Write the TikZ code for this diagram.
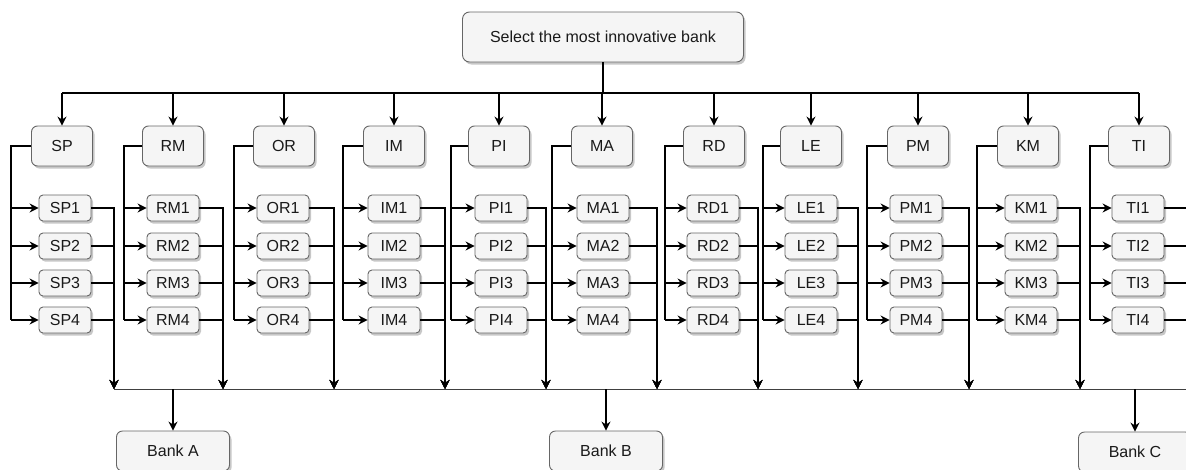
\documentclass[tikz,border=0pt]{standalone}
\usepackage{fontspec}
\setmainfont{Liberation Sans}
\usetikzlibrary{arrows.meta,shadows}
\definecolor{boxfill}{HTML}{F5F5F5}
\definecolor{boxline}{HTML}{666666}
\definecolor{txt}{HTML}{1A1A1A}
\tikzset{
  boxbase/.style={draw=boxline, fill=boxfill, line width=0.9pt, text=txt,
    font=\fontsize{16}{18}\selectfont, inner sep=1pt,
    drop shadow={shadow xshift=2pt, shadow yshift=-2.5pt, fill=black, opacity=0.22}},
  topbox/.style={boxbase, rounded corners=7pt, minimum width=281pt, minimum height=50pt},
  mainbox/.style={boxbase, rounded corners=6pt, minimum width=61pt, minimum height=40pt},
  subbox/.style={boxbase, rounded corners=4pt, minimum width=52pt, minimum height=26pt},
  bankbox/.style={boxbase, rounded corners=6pt, minimum width=113pt, minimum height=40pt},
  wire/.style={draw=black, line width=1.15pt},
  arr/.style={wire, -{Stealth[length=9pt, width=9pt, inset=3pt]}},
  buswire/.style={draw=black!75, line width=0.9pt}
}
\begin{document}
\begin{tikzpicture}[x=1pt, y=-1pt]
\useasboundingbox (0,0) rectangle (1186,469);
\clip (0,0) rectangle (1186,469);

\node[topbox] (top) at (603,37) {Select the most innovative bank};
\coordinate (tb) at (603,93);
\coordinate (bb) at (0,389);
\coordinate (busend) at (1186,389);

\foreach \n/\cx/\sx/\lx/\rx in {SP/62/65/11/114, RM/173/173/124/223, OR/284/283/234/334,
  IM/394/394/343/445, PI/499/501/451/546, MA/602/603/552/657, RD/714/713/665/758,
  LE/811/811/763/858, PM/918/916/867/969, KM/1028/1031/977/1080, TI/1139/1138/1090/1191} {
  \node[mainbox] (\n) at (\cx,146) {\n};
  \coordinate (\n-l) at (\lx,146);
  \coordinate (\n-r) at (\rx,389);
  \foreach \i/\yy in {1/208, 2/246, 3/283, 4/320} {
    \node[subbox] (\n\i) at (\sx,\yy) {\n\i};
  }
  \draw[wire] (\n.west) -- (\n-l) -- (\n-l |- \n4.west);
  \foreach \i in {1,2,3,4} {
    \draw[arr] (\n-l |- \n\i.west) -- (\n\i.west);
    \draw[arr] (\n\i.east) -| (\n-r);
  }
  \draw[arr] (\n.north |- tb) -- (\n.north);
}

\draw[wire, line width=1.5pt] (top.south) -- (tb);
\draw[wire, line width=1.4pt] (SP.north |- tb) -- (TI.north |- tb);

\draw[buswire] (SP-r) -- (busend);

\node[bankbox] (bankA) at (173,451) {Bank A};
\node[bankbox] (bankB) at (606,451) {Bank B};
\node[bankbox] (bankC) at (1135,452) {Bank C};
\foreach \b in {bankA, bankB, bankC} {
  \draw[arr] (\b.north |- bb) -- (\b.north);
}
\end{tikzpicture}
\end{document}
